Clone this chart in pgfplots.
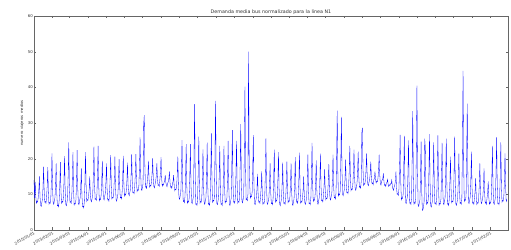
\documentclass[border=0pt]{standalone}
\usepackage{pgfplots}
\pgfplotsset{compat=1.18}
\usepackage{fontspec}
\setmainfont{DejaVu Sans}
\begin{document}
\begin{tikzpicture}
\begin{axis}[
  width=474pt, height=214pt, scale only axis,
  xmin=0, xmax=791, ymin=0, ymax=60,
  ytick={0,10,20,30,40,50,60},
  xtick={0,31,59,90,120,151,181,212,243,273,304,334,365,396,425,456,486,517,547,578,609,639,670,700,731,762},
  xticklabels={2015/01/01,2015/02/01,2015/03/01,2015/04/01,2015/05/01,2015/06/01,2015/07/01,2015/08/01,2015/09/01,2015/10/01,2015/11/01,2015/12/01,2016/01/01,2016/02/01,2016/03/01,2016/04/01,2016/05/01,2016/06/01,2016/07/01,2016/08/01,2016/09/01,2016/10/01,2016/11/01,2016/12/01,2017/01/01,2017/02/01},
  xticklabel style={rotate=30, anchor=north east, inner sep=0.8pt, font=\fontsize{3.9}{4}\selectfont, text=black!80},
  yticklabel style={font=\fontsize{3.9}{4}\selectfont, inner sep=1pt, text=black!80},
  /pgf/number format/assume math mode=true,
  tick align=inside, tick pos=both, major tick length=2.5pt,
  axis line style={black!60, line width=0.4pt},
  tick style={black!60, line width=0.3pt},
  title={Demanda media bus normalizado para la linea N1},
  every axis title/.style={at={(0.5,1)}, anchor=south, yshift=0.3pt, inner sep=1pt, font=\fontsize{4.8}{5}\selectfont, text=black!80},
  ylabel={numero viajeros medios},
  every axis y label/.style={at={(axis description cs:-0.025,0.5)}, rotate=90, anchor=center, font=\fontsize{3.8}{4}\selectfont, text=black!80},
]
\addplot[blue, line width=0.3pt, mark=none] table[header=false, x expr=\coordindex, y index=0, row sep=\\] {
14\\9\\13.5\\
9.3\\7.5\\8.0\\7.8\\9.0\\10.9\\15\\
9.4\\7\\6.6\\7.6\\8.5\\11.9\\17.8\\
10.8\\7.8\\8.0\\7.5\\9.3\\12.2\\17.6\\
10.3\\7.2\\7.7\\7.5\\8.7\\13.6\\21.5\\
11.8\\7.6\\7.2\\8.2\\9.1\\12.6\\18.7\\
10.4\\6.8\\7.0\\6.5\\8.3\\12.3\\19\\
11.0\\7.5\\8.0\\7.8\\9.0\\13.4\\20.7\\
11.3\\7.2\\6.8\\7.8\\8.7\\15.0\\24.6\\
12.8\\7.8\\8.0\\7.5\\9.3\\14.1\\21.8\\
11.4\\7\\7.5\\7.3\\8.5\\13.9\\22.4\\
12.0\\7.5\\7.1\\8.1\\9.0\\11.9\\17.3\\
9.7\\6.5\\6.7\\6.2\\8.0\\13.4\\21.8\\
12.1\\8\\8.5\\8.3\\9.5\\11.2\\15\\
10.3\\8.3\\7.9\\8.9\\9.8\\15.1\\23.4\\
13.0\\8.6\\8.8\\8.3\\10.1\\15.4\\23.6\\
12.7\\8.2\\8.7\\8.5\\9.7\\13.2\\19.4\\
12.0\\8.8\\8.4\\9.4\\10.3\\13.3\\18.7\\
11.5\\8.4\\8.6\\8.1\\9.9\\14.1\\21\\
12.4\\8.7\\9.2\\9.0\\10.2\\14.1\\20.6\\
12.1\\8.5\\8.1\\9.1\\10.0\\13.6\\19.9\\
12.3\\9\\9.2\\8.7\\10.5\\14.3\\20.8\\
12.9\\9.5\\10.0\\9.8\\11.0\\13.7\\18.9\\
12.7\\10\\9.6\\10.6\\11.5\\15.1\\21.3\\
13.7\\10.5\\10.7\\10.2\\12.0\\15.4\\21.3\\
14.0\\10.8\\11.3\\11.1\\12.3\\17.6\\26\\
15.9\\11.5\\11.1\\12.1\\13.0\\29.5\\32.2\\
18.1\\12\\12.2\\11.7\\13.5\\15.3\\19.4\\
14.2\\12\\12.5\\12.3\\13.5\\15.6\\20.1\\
14.6\\12.2\\11.8\\12.8\\13.7\\15.1\\18.7\\
14.4\\12.5\\12.7\\12.2\\14.0\\16.1\\20.4\\
14.7\\12.3\\12.8\\12.6\\13.3\\13.7\\15.4\\
13.4\\12.5\\12.1\\13.1\\13.5\\14.3\\16.4\\
13.3\\12\\12.2\\11.7\\13.0\\13.5\\15.4\\
12.3\\11\\11.5\\11.3\\12.5\\15.3\\20.6\\
12.5\\9\\8.6\\9.6\\10.5\\16.3\\25.2\\
13.2\\8\\8.2\\7.7\\9.5\\15.2\\24.1\\
12.5\\7.5\\8.0\\7.8\\9.0\\15.0\\24.1\\
12.7\\7.8\\7.4\\8.4\\9.3\\20.2\\35.3\\
15.6\\7.2\\7.4\\6.9\\8.7\\15.8\\26.2\\
13.1\\7.5\\8.0\\7.8\\9.0\\14.3\\22.6\\
12.1\\7.6\\7.2\\8.2\\9.1\\15.2\\24.5\\
12.4\\7.2\\7.4\\6.9\\8.7\\16.2\\27.1\\
13.6\\7.8\\8.3\\8.1\\9.3\\20.6\\36.2\\
16.1\\7.5\\7.1\\8.1\\9.0\\14.7\\23.6\\
12.1\\7.2\\7.4\\6.9\\8.7\\14.6\\23.6\\
12.4\\7.6\\8.1\\7.9\\9.1\\15.4\\25\\
12.6\\7.3\\6.9\\7.9\\8.8\\16.6\\28\\
13.9\\7.8\\8.0\\7.5\\9.3\\15.5\\25\\
12.8\\7.5\\8.0\\7.8\\9.0\\17.5\\29.7\\
14.5\\8\\7.6\\8.6\\9.5\\22.5\\40.2\\
18.0\\8.5\\8.7\\8.2\\10.0\\50\\21\\
12.6\\9\\9.5\\9.3\\10.5\\16.9\\26.6\\
13.2\\7.5\\7.1\\8.1\\9.0\\11.2\\15.7\\
10.2\\7.8\\8.0\\7.5\\9.3\\11.7\\16.4\\
10.0\\7.2\\7.7\\7.5\\8.7\\15.5\\25.7\\
13.0\\7.6\\7.2\\8.2\\9.1\\12.6\\18.7\\
10.8\\7.4\\7.6\\7.1\\8.9\\14.2\\22.5\\
12.2\\7.8\\8.3\\8.1\\9.3\\14.1\\21.8\\
11.6\\7.2\\6.8\\7.8\\8.7\\12.5\\18.9\\
10.9\\7.5\\7.7\\7.2\\9.0\\12.8\\19.2\\
11.2\\7.7\\8.2\\8.0\\9.2\\12.7\\18.7\\
10.7\\7.3\\6.9\\7.9\\8.8\\13.2\\20.4\\
11.6\\7.8\\8.0\\7.5\\9.3\\14.1\\21.7\\
11.8\\7.5\\8.0\\7.8\\9.0\\10.9\\15\\
9.8\\7.6\\7.2\\8.2\\9.1\\13.7\\21.1\\
11.5\\7.4\\7.6\\7.1\\8.9\\15.1\\24.4\\
12.9\\8\\8.5\\8.3\\9.5\\13.2\\19.5\\
11.2\\7.6\\7.2\\8.2\\9.1\\13.8\\21.4\\
12.2\\8.2\\8.4\\7.9\\9.7\\12.2\\17\\
11.1\\8.5\\9.0\\8.8\\10.0\\13.0\\18.5\\
11.7\\8.8\\8.4\\9.4\\10.3\\14.3\\21.1\\
12.6\\9\\9.2\\8.7\\10.5\\20.0\\33.5\\
16.7\\9.5\\10.0\\9.8\\11.0\\19.5\\31.7\\
16.5\\10\\9.6\\10.6\\11.5\\14.4\\19.7\\
13.3\\10.5\\10.7\\10.2\\12.0\\16.4\\23.6\\
14.8\\11\\11.5\\11.3\\12.5\\16.2\\22.5\\
14.8\\11.5\\11.1\\12.1\\13.0\\16.2\\22\\
15.0\\12\\12.2\\11.7\\13.5\\27.2\\28.6\\
17.3\\12.5\\13.0\\12.8\\14.0\\16.6\\21.5\\
15.4\\12.8\\12.4\\13.4\\14.0\\15.7\\19.2\\
14.9\\13\\13.2\\12.7\\14.0\\14.5\\16.4\\
14.2\\13.2\\13.7\\13.5\\14.5\\16.8\\21.1\\
15.4\\13\\12.6\\13.6\\14.0\\14.3\\15.9\\
13.5\\12.5\\12.7\\12.2\\13.2\\13.3\\14.2\\
12.8\\12.2\\12.7\\12.5\\13.0\\13.0\\14\\
12.3\\11.5\\11.1\\12.1\\12.5\\13.7\\16.4\\
11.9\\10\\10.2\\9.7\\11.5\\17.5\\26.7\\
14.0\\8.5\\9.0\\8.8\\10.0\\16.6\\26.4\\
13.4\\7.8\\7.4\\8.4\\9.3\\15.6\\25.1\\
12.8\\7.5\\7.7\\7.2\\9.0\\19.1\\33.3\\
15.0\\7.2\\7.7\\7.5\\8.7\\22.2\\40.5\\
17.1\\7\\6.6\\7.6\\8.5\\15.0\\24.8\\
11.3\\5.5\\5.7\\6.5\\8.0\\25.6\\23\\
11.9\\7.2\\7.7\\7.5\\8.7\\16.1\\26.9\\
12.8\\6.8\\6.4\\7.4\\8.3\\14.8\\24.6\\
12.6\\7.4\\7.6\\7.1\\8.9\\16.0\\26.5\\
12.9\\7\\7.5\\7.3\\8.5\\14.8\\24.4\\
12.6\\7.5\\7.1\\8.1\\9.0\\15.6\\25.6\\
12.7\\7.2\\7.4\\6.9\\8.7\\13.2\\20.6\\
11.5\\7.6\\8.1\\7.9\\9.1\\16.0\\26.2\\
13.0\\7.3\\6.9\\7.9\\8.8\\13.6\\21.4\\
11.7\\7.5\\7.7\\7.2\\9.0\\24.2\\44.6\\
19.0\\8\\8.5\\8.3\\9.5\\20.3\\35.4\\
16.1\\7.8\\7.4\\8.4\\9.3\\14.2\\22\\
11.9\\7.5\\7.7\\7.2\\9.0\\10.7\\14.5\\
9.4\\7.2\\7.7\\7.5\\8.7\\12.4\\18.7\\
11.1\\7.8\\7.4\\8.4\\9.3\\12.1\\17.3\\
10.4\\7.5\\7.7\\7.2\\9.0\\10.2\\13.6\\
9.1\\7.2\\7.7\\7.5\\8.7\\14.6\\23.6\\
12.4\\7.6\\7.2\\8.2\\9.1\\15.9\\26\\
13.0\\7.4\\7.6\\7.1\\8.9\\15.1\\24.6\\
12.8\\7.8\\8.3\\8.1\\9.3\\14.0\\21.5\\
12.5\\8.0\\8.5\\
};
\end{axis}
\pgfresetboundingbox
\path[use as bounding box] ([xshift=-34pt,yshift=-20pt]current axis.south west) rectangle ([xshift=3pt,yshift=16pt]current axis.north east);
\end{tikzpicture}
\end{document}
